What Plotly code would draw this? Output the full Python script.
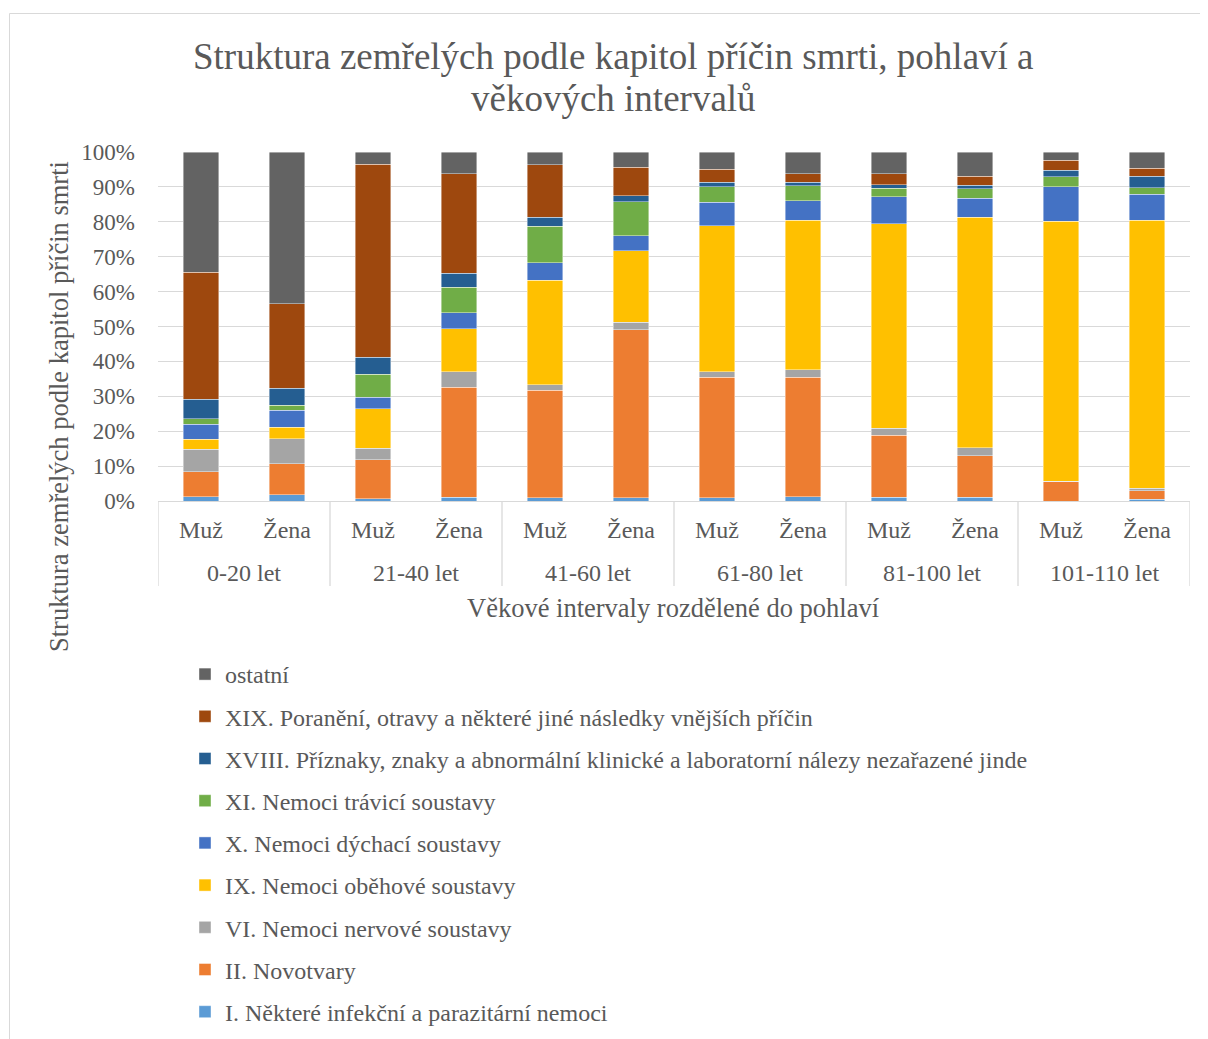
import plotly.graph_objects as go

groups = ["0-20 let", "21-40 let", "41-60 let", "61-80 let", "81-100 let", "101-110 let"]
sexes = ["Muž", "Žena"]

# values in % per bar: order = (0-20 Muž, 0-20 Žena, 21-40 Muž, ..., 101-110 Žena)
s_I     = [1.2, 1.8, 0.7, 1.1, 0.9, 0.9, 0.9, 1.2, 1.1, 1.1, 0.0, 0.5]
s_II    = [7.2, 8.9, 11.1, 31.5, 30.8, 48.1, 34.5, 34.2, 17.7, 11.9, 5.5, 2.4]
s_VI    = [6.5, 7.2, 3.3, 4.4, 1.6, 2.2, 1.6, 2.2, 2.1, 2.2, 0.2, 0.7]
s_IX    = [2.8, 3.3, 11.4, 12.4, 30.0, 20.5, 41.9, 42.8, 58.6, 66.1, 74.4, 76.9]
s_X     = [4.3, 4.8, 3.2, 4.5, 4.9, 4.3, 6.7, 5.7, 7.7, 5.5, 10.0, 7.4]
s_XI    = [1.6, 1.4, 6.6, 7.3, 10.5, 9.7, 4.5, 4.2, 2.4, 2.6, 2.8, 1.9]
s_XVIII = [5.6, 4.9, 4.9, 4.1, 2.6, 1.7, 1.3, 1.0, 1.0, 1.1, 1.9, 3.2]
s_XIX   = [36.3, 24.2, 55.3, 28.4, 15.1, 8.3, 3.7, 2.5, 3.2, 2.6, 2.8, 2.3]
s_ost   = [34.5, 43.5, 3.5, 6.3, 3.6, 4.3, 4.9, 6.2, 6.2, 6.9, 2.4, 4.7]

series_names = [
    "I. Některé infekční a parazitární nemoci",
    "II. Novotvary",
    "VI. Nemoci nervové soustavy",
    "IX. Nemoci oběhové soustavy",
    "X. Nemoci dýchací soustavy",
    "XI. Nemoci trávicí soustavy",
    "XVIII. Příznaky, znaky a abnormální klinické a laboratorní nálezy nezařazené jinde",
    "XIX. Poranění, otravy a některé jiné následky vnějších příčin",
    "ostatní",
]
series_vals = [s_I, s_II, s_VI, s_IX, s_X, s_XI, s_XVIII, s_XIX, s_ost]
colors = ["#5B9BD5", "#ED7D31", "#A5A5A5", "#FFC000", "#4472C4", "#70AD47",
          "#255E91", "#9E480E", "#636363"]

n_bars = len(groups) * len(sexes)
xpos = list(range(n_bars))
xticktext = [s for _ in groups for s in sexes]

FONT = "Liberation Serif, Times New Roman, serif"
TXT = "#595959"
GRID = "#d9d9d9"

W, H = 1208, 1039
# page has an 8px body margin; coordinates below are figure coordinates
L, R, T, B = 150, 1182, 144, 493

def py(p):
    return (B - p) / (B - T)

def px(p):
    return (p - L) / (R - L)

fig = go.Figure()
n = len(series_names)
for i, (name, vals, col) in enumerate(zip(series_names, series_vals, colors)):
    fig.add_trace(go.Bar(
        x=xpos,
        y=[v / 100.0 for v in vals],
        name=name,
        marker=dict(color=col, line=dict(color="rgba(255,255,255,0.6)", width=0.7)),
        legendgroup=f"g{i}",
        legendrank=100 + (n - i),
    ))

annotations = [
    dict(text="Struktura zemřelých podle kapitol příčin smrti, pohlaví a",
         xref="paper", yref="paper", x=px(605), y=py(48),
         xanchor="center", yanchor="middle", showarrow=False,
         font=dict(family=FONT, size=37, color=TXT)),
    dict(text="věkových intervalů",
         xref="paper", yref="paper", x=px(605), y=py(90),
         xanchor="center", yanchor="middle", showarrow=False,
         font=dict(family=FONT, size=37, color=TXT)),
    dict(text="Struktura zemřelých podle kapitol příčin smrti",
         xref="paper", yref="paper", x=px(51), y=py(399),
         xanchor="center", yanchor="middle", textangle=-90, showarrow=False,
         font=dict(family=FONT, size=26.5, color=TXT)),
    dict(text="Věkové intervaly rozdělené do pohlaví",
         xref="paper", yref="paper", x=px(665), y=py(600),
         xanchor="center", yanchor="middle", showarrow=False,
         font=dict(family=FONT, size=26.5, color=TXT)),
]
for gi, g in enumerate(groups):
    annotations.append(dict(
        text=g, xref="x", yref="paper",
        x=gi * len(sexes) + (len(sexes) - 1) / 2, y=py(565),
        xanchor="center", yanchor="middle", showarrow=False,
        font=dict(family=FONT, size=24, color=TXT)))

shapes = [
    dict(type="rect", xref="paper", yref="paper",
         x0=px(1.5), x1=px(1260), y0=py(5.5), y1=py(1100),
         line=dict(color=GRID, width=1), fillcolor="rgba(0,0,0,0)", layer="below"),
]
for k in range(len(groups) + 1):
    xb = k * len(sexes) - 0.5
    shapes.append(dict(type="line", xref="x", yref="paper",
                       x0=xb, x1=xb, y0=0, y1=py(578),
                       line=dict(color=GRID, width=1.3), layer="below"))

fig.update_layout(
    width=W, height=H,
    margin=dict(l=L, r=W - R, t=T, b=H - B),
    barmode="stack",
    bargap=0.59,
    plot_bgcolor="white",
    paper_bgcolor="white",
    font=dict(family=FONT, color=TXT, size=24),
    showlegend=True,
    legend=dict(
        x=px(177), xanchor="left",
        y=py(644), yanchor="top",
        traceorder="grouped",
        tracegroupgap=8,
        font=dict(family=FONT, size=24, color=TXT),
        itemwidth=30,
        bgcolor="rgba(0,0,0,0)",
    ),
    xaxis=dict(
        range=[-0.5, n_bars - 0.5],
        tickvals=xpos, ticktext=xticktext,
        showline=True, linecolor=GRID, linewidth=1.3,
        tickfont=dict(family=FONT, size=24, color=TXT),
        ticklabelstandoff=7,
        showgrid=False, zeroline=False,
    ),
    yaxis=dict(
        range=[0, 1],
        tickformat=".0%",
        tickvals=[i / 10 for i in range(11)],
        showgrid=True, gridcolor=GRID, gridwidth=1.3,
        zeroline=False,
        showline=False,
        ticklabelstandoff=22,
        tickfont=dict(family=FONT, size=23, color=TXT),
    ),
    annotations=annotations,
    shapes=shapes,
)

fig.write_html("out.html")
